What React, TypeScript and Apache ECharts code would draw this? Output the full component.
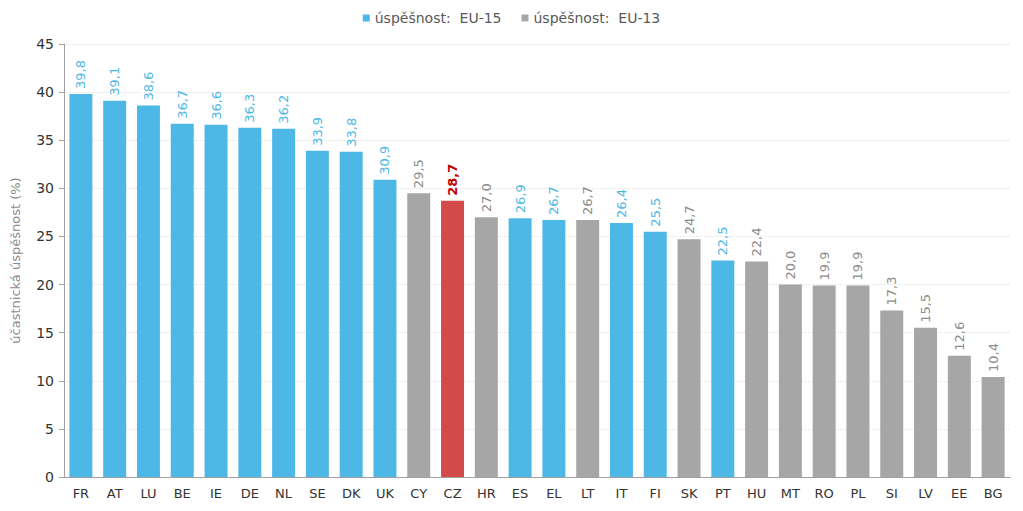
import React, { useEffect, useRef } from "react";
import * as echarts from "echarts";

const categories = ["FR","AT","LU","BE","IE","DE","NL","SE","DK","UK","CY","CZ","HR","ES","EL","LT","IT","FI","SK","PT","HU","MT","RO","PL","SI","LV","EE","BG"];
const values = [39.8,39.1,38.6,36.7,36.6,36.3,36.2,33.9,33.8,30.9,29.5,28.7,27.0,26.9,26.7,26.7,26.4,25.5,24.7,22.5,22.4,20.0,19.9,19.9,17.3,15.5,12.6,10.4];
const eu15 = ["FR","AT","LU","BE","IE","DE","NL","SE","DK","UK","ES","EL","IT","FI","PT"];
const highlight = "CZ";
const seriesNames = ["úspěšnost:  EU-15", "úspěšnost:  EU-13"];
const yTicks = { min: 0, max: 45, interval: 5 };

const BLUE = "#4DB8E6";
const GRAY = "#A6A6A6";
const RED = "#D24A4A";
const RED_TEXT = "#C00000";

export default function App() {
  const ref = useRef<HTMLDivElement>(null);
  useEffect(() => {
    if (!ref.current) return;
    const chart = echarts.init(ref.current, undefined, { renderer: "svg" });
    const fmt = (v: number) => v.toFixed(1).replace(".", ",");
    const mk = (isEu15: boolean) =>
      categories.map((c, i) => {
        const inGroup = eu15.includes(c) === isEu15;
        if (!inGroup) return null;
        if (c === highlight) {
          return {
            value: values[i],
            itemStyle: { color: RED },
            label: { color: RED_TEXT, fontWeight: "bold" as const },
          };
        }
        return values[i];
      });
    const labelBase = {
      show: true,
      position: "top" as const,
      rotate: 90,
      align: "left" as const,
      verticalAlign: "middle" as const,
      distance: 5,
      fontSize: 13,
      formatter: (p: any) => fmt(p.value),
    };
    chart.setOption({
      animation: false,
      textStyle: { fontFamily: "DejaVu Sans" },
      legend: {
        top: -2,
        left: "center",
        itemWidth: 7,
        itemHeight: 7,
        itemGap: 20,
        icon: "rect",
        textStyle: { color: "#595959", fontSize: 14, fontFamily: "DejaVu Sans" },
        data: seriesNames,
      },
      grid: { left: 56, right: 5, top: 36, bottom: 26, containLabel: false, outerBoundsMode: "none" },
      xAxis: {
        type: "category",
        data: categories,
        axisLine: { lineStyle: { color: "#A0A0A0" } },
        axisTick: { show: false },
        axisLabel: { color: "#333", fontSize: 13, margin: 10, interval: 0 },
      },
      yAxis: {
        type: "value",
        min: yTicks.min,
        max: yTicks.max,
        interval: yTicks.interval,
        name: "účastnická úspěšnost (%)",
        nameLocation: "middle",
        nameGap: 42,
        nameRotate: 90,
        nameTextStyle: { color: "#8C8C8C", fontSize: 13 },
        axisLine: { show: true, lineStyle: { color: "#A0A0A0" } },
        axisTick: { show: true, length: 5, lineStyle: { color: "#A0A0A0" } },
        axisLabel: { color: "#333", fontSize: 14, margin: 10 },
        splitLine: { lineStyle: { color: "#E3E3E3", type: "dotted" } },
      },
      series: [
        {
          name: seriesNames[0],
          type: "bar",
          stack: "a",
          barWidth: "68%",
          itemStyle: { color: BLUE },
          label: { ...labelBase, color: BLUE },
          data: mk(true),
        },
        {
          name: seriesNames[1],
          type: "bar",
          stack: "a",
          barWidth: "68%",
          itemStyle: { color: GRAY },
          label: { ...labelBase, color: "#8C8C8C" },
          data: mk(false),
        },
      ],
    });
    return () => chart.dispose();
  }, []);
  return <div ref={ref} style={{ width: 1007, height: 495 }} />;
}
